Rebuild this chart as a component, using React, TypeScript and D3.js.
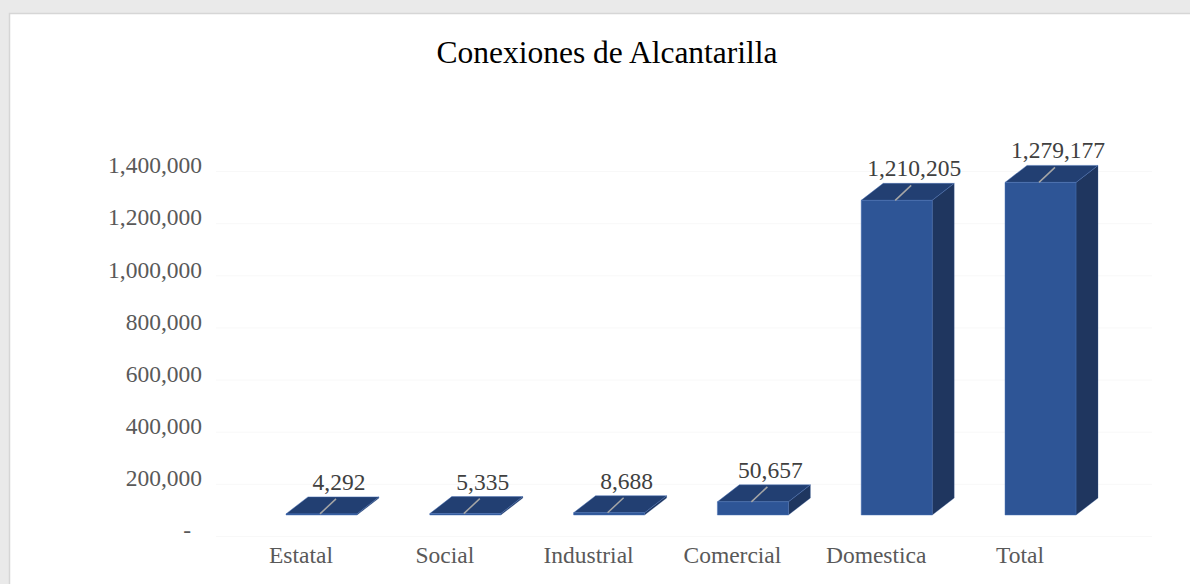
import React from "react";
import * as d3 from "d3";

const categories = ["Estatal", "Social", "Industrial", "Comercial", "Domestica", "Total"];
const values = [4292, 5335, 8688, 50657, 1210205, 1279177];
const yTicks = [0, 200000, 400000, 600000, 800000, 1000000, 1200000, 1400000];
const title = "Conexiones de Alcantarilla";

const W = 1190;
const H = 584;
const FONT = "'Liberation Serif', 'Times New Roman', serif";

export default function App() {
  const x = d3.scalePoint<string>().domain(categories).range([301, 1020]);
  // bar heights (front face)
  const yBar = d3.scaleLinear().domain([0, 1400000]).range([515, 515 - 364]);
  // axis label positions
  const yAxis = d3.scaleLinear().domain([0, 1400000]).range([530, 165]);
  const fmt = d3.format(",");

  const barW = 71;
  const dx = 22;
  const dy = -17;

  return (
    <div style={{ position: "fixed", left: 0, top: 0, width: W, height: H }}>
      <svg width={W} height={H} style={{ display: "block" }}>
        <rect x={0} y={0} width={W} height={H} fill="#eaeaea" />
        <rect x={9.5} y={13.5} width={W + 10} height={H} fill="#ffffff" stroke="#d6d6d6" strokeWidth={1.5} />
        <text x={607} y={63} textAnchor="middle" fontFamily={FONT} fontSize={31.5} fill="#000">
          {title}
        </text>
        {/* faint gridlines */}
        {yTicks.map((t) => (
          <line key={"g" + t} x1={216} x2={1152} y1={yAxis(t) + 6.5} y2={yAxis(t) + 6.5} stroke="#f8f8f8" strokeWidth={1} />
        ))}
        {/* y axis labels */}
        {yTicks.map((t) => (
          <text
            key={"t" + t}
            x={202}
            dx={t === 0 ? -11 : 0}
            y={yAxis(t)}
            dy="0.35em"
            textAnchor="end"
            fontFamily={FONT}
            fontSize={23.5}
            fill="#595959"
          >
            {t === 0 ? "-" : fmt(t)}
          </text>
        ))}
        {/* bars */}
        {categories.map((c, i) => {
          const fl = (x(c) as number) - 15;
          const fr = fl + barW;
          const yb = yBar(0);
          const yt = yBar(values[i]);
          const front = `M${fl},${yt}L${fr},${yt}L${fr},${yb}L${fl},${yb}Z`;
          const top = `M${fl},${yt}L${fl + dx},${yt + dy}L${fr + dx},${yt + dy}L${fr},${yt}Z`;
          const side = `M${fr},${yt}L${fr + dx},${yt + dy}L${fr + dx},${yb + dy}L${fr},${yb}Z`;
          return (
            <g key={c}>
              <path d={side} fill="#1f365f" stroke="#3a5f9f" strokeWidth={0.6} strokeOpacity={0.5} />
              <path d={top} fill="#223f72" stroke="#4a72b8" strokeWidth={0.8} strokeOpacity={0.6} />
              <path d={front} fill="#2e5596" stroke="#4a72b8" strokeWidth={0.8} strokeOpacity={0.6} />
              <line x1={fl + 34} y1={yt} x2={fl + 50} y2={yt - 15} stroke="#a6a6a6" strokeWidth={1.5} />
              <text
                x={fl + 53}
                y={yt + dy - 7}
                textAnchor="middle"
                fontFamily={FONT}
                fontSize={23.5}
                fill="#404040"
              >
                {fmt(values[i])}
              </text>
            </g>
          );
        })}
        {/* category labels */}
        {categories.map((c) => (
          <text key={"c" + c} x={x(c) as number} y={563} textAnchor="middle" fontFamily={FONT} fontSize={23.5} fill="#595959">
            {c}
          </text>
        ))}
      </svg>
    </div>
  );
}
